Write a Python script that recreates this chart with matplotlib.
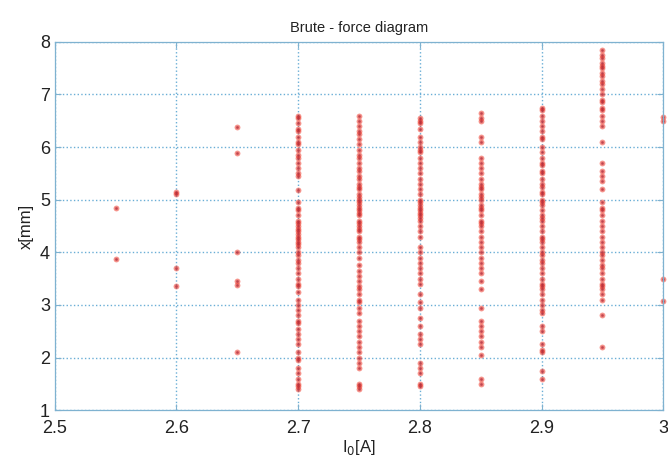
import matplotlib.pyplot as plt
import numpy as np

# current values [A] and the x[mm] points found at each
i_255 = [4.85, 3.88]
i_260 = [5.1, 5.15, 3.7, 3.35]
i_265 = [6.38, 5.88, 4.0, 3.38, 3.45, 2.1]
i_270 = [6.6, 6.55, 6.45, 6.35, 6.3, 6.2, 6.1, 6.05, 5.95, 5.85, 5.8, 5.7,
         5.6, 5.5, 5.45, 5.18, 4.95, 4.85, 4.8, 4.7, 4.6, 4.55, 4.5, 4.45,
         4.4, 4.35, 4.3, 4.25, 4.2, 4.15, 4.1, 4.0, 3.95, 3.85, 3.8, 3.7,
         3.6, 3.5, 3.4, 3.35, 3.25, 3.1, 3.0, 2.9, 2.8, 2.7, 2.65, 2.55,
         2.45, 2.35, 2.25, 2.1, 2.0, 1.95, 1.8, 1.7, 1.6, 1.5, 1.45, 1.4]
i_275 = [6.6, 6.5, 6.4, 6.3, 6.25, 6.15, 6.05, 5.95, 5.85, 5.8, 5.7, 5.6,
         5.55, 5.45, 5.4, 5.3, 5.25, 5.2, 5.1, 5.05, 5.0, 4.95, 4.9, 4.85,
         4.8, 4.75, 4.7, 4.6, 4.55, 4.5, 4.45, 4.4, 4.3, 4.25, 4.2, 4.1,
         4.0, 3.9, 3.75, 3.65, 3.55, 3.45, 3.35, 3.3, 3.2, 3.1, 3.05, 2.95,
         2.85, 2.7, 2.6, 2.5, 2.4, 2.3, 2.2, 2.1, 2.0, 1.9, 1.8, 1.5, 1.45,
         1.4]
i_280 = [6.55, 6.5, 6.45, 6.35, 6.2, 6.1, 6.0, 5.95, 5.9, 5.8, 5.7, 5.6,
         5.5, 5.4, 5.3, 5.2, 5.1, 5.0, 4.95, 4.9, 4.85, 4.8, 4.75, 4.7,
         4.65, 4.6, 4.5, 4.4, 4.3, 4.1, 4.0, 3.9, 3.8, 3.7, 3.6, 3.5, 3.4,
         3.2, 3.05, 2.95, 2.75, 2.6, 2.45, 2.35, 2.25, 1.9, 1.8, 1.7, 1.5,
         1.45]
i_285 = [6.65, 6.55, 6.5, 6.2, 6.1, 5.8, 5.7, 5.6, 5.5, 5.4, 5.3, 5.25,
         5.2, 5.1, 5.05, 5.0, 4.9, 4.85, 4.8, 4.7, 4.6, 4.55, 4.5, 4.4, 4.3,
         4.2, 4.1, 4.0, 3.9, 3.8, 3.7, 3.6, 3.45, 3.3, 2.95, 2.7, 2.6, 2.5,
         2.4, 2.3, 2.2, 2.05, 1.6, 1.5]
i_290 = [6.75, 6.7, 6.6, 6.5, 6.4, 6.3, 6.2, 6.15, 6.0, 5.9, 5.8, 5.7,
         5.65, 5.55, 5.5, 5.4, 5.3, 5.25, 5.15, 5.1, 5.0, 4.95, 4.9, 4.8,
         4.7, 4.65, 4.6, 4.5, 4.4, 4.3, 4.25, 4.2, 4.1, 4.0, 3.95, 3.85,
         3.8, 3.7, 3.6, 3.5, 3.4, 3.35, 3.3, 3.2, 3.1, 3.0, 2.9, 2.85, 2.6,
         2.5, 2.25, 2.15, 2.1, 1.75, 1.6]
i_295 = [7.85, 7.75, 7.7, 7.6, 7.55, 7.5, 7.4, 7.35, 7.25, 7.2, 7.1, 7.0,
         6.9, 6.85, 6.75, 6.7, 6.6, 6.5, 6.4, 6.1, 5.7, 5.55, 5.45, 5.35,
         5.2, 4.95, 4.85, 4.8, 4.7, 4.6, 4.5, 4.4, 4.3, 4.2, 4.1, 4.0, 3.95,
         3.85, 3.75, 3.7, 3.6, 3.5, 3.4, 3.35, 3.3, 3.2, 3.1, 2.8, 2.2]
i_300 = [6.58, 6.5, 3.5, 3.08]

columns = {
    2.55: i_255, 2.60: i_260, 2.65: i_265, 2.70: i_270, 2.75: i_275,
    2.80: i_280, 2.85: i_285, 2.90: i_290, 2.95: i_295, 3.00: i_300,
}

plt.rcParams['font.family'] = ['Liberation Sans', 'DejaVu Sans']

fig = plt.figure(figsize=(6.68, 4.65), dpi=100)
ax = fig.add_axes([0.082, 0.118, 0.911, 0.792])

for cur, xs in columns.items():
    xs_cur = np.full(len(xs), cur)
    ax.plot(xs_cur, xs, ls='none', marker='o', ms=4.2,
            color='#ee3a2c', mec='none', alpha=0.55, clip_on=False)
    ax.plot(xs_cur, xs, ls='none', marker='.', ms=2.5,
            color='#b02a3a', alpha=0.5, clip_on=False)

ax.set_xlim(2.5, 3.0)
ax.set_ylim(1, 8)
ax.set_xticks([2.5, 2.6, 2.7, 2.8, 2.9, 3.0])
ax.set_xticklabels(['2.5', '2.6', '2.7', '2.8', '2.9', '3'])
ax.set_yticks(range(1, 9))

gridc = '#6aaed6'
ax.grid(True, ls=':', lw=1.0, color=gridc)
ax.set_axisbelow(True)
for s in ax.spines.values():
    s.set_color('#7fb2d0')
    s.set_linewidth(0.9)
ax.tick_params(direction='in', length=4, color='#7fb2d0',
               labelsize=13, labelcolor='#222222', top=True, right=True)
ax.tick_params(axis='x', pad=7)

ax.set_title('Brute - force diagram', fontsize=10.5, color='#222222', pad=7)
ax.set_xlabel(r'I$_0$[A]', fontsize=12, color='#222222', labelpad=1)
ax.set_ylabel('x[mm]', fontsize=12, color='#222222', labelpad=4)

fig.savefig('out.png', dpi=100)
plt.close(fig)
